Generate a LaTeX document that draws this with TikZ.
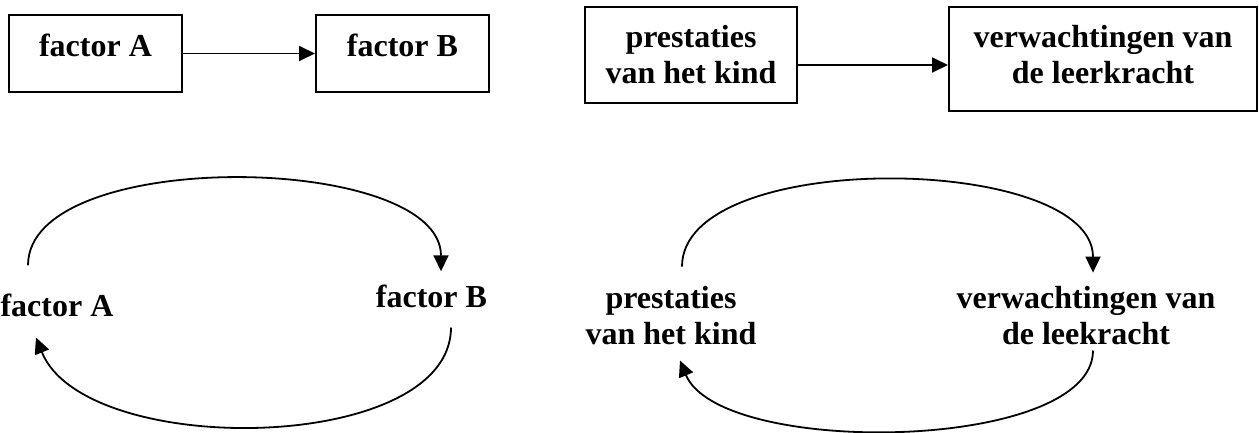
\documentclass[tikz,border=0pt]{standalone}
\usepackage{fontspec}
\setmainfont{Liberation Serif}
\usetikzlibrary{arrows.meta}

\begin{document}
\begin{tikzpicture}[x=1pt, y=1pt,
    >={Triangle[length=16pt,width=15pt]},
    every node/.style={font=\fontsize{32}{36}\selectfont\bfseries, inner sep=0pt},
    box/.style={draw, line width=2pt},
    lbl/.style={align=center, anchor=base},
    link/.style={->, line width=1.8pt}
  ]
    \useasboundingbox (0,0) rectangle (1259,432);

    % top row: boxes
    \node[box, minimum width=173pt, minimum height=77pt,
          text height=22pt, text depth=15pt] (A) at (95.5,378.5) {factor A};
    \node[box, minimum width=173pt, minimum height=77pt,
          text height=22pt, text depth=15pt] (B) at (402.5,378.5) {factor B};
    \node[box, align=center, minimum width=212pt, minimum height=96pt] (P) at (691,377)
      {prestaties\\van het kind};
    \node[box, align=center, minimum width=308pt, minimum height=104pt] (V) at (1103,373)
      {verwachtingen van\\de leerkracht\rule[-10pt]{0pt}{10pt}};

    \draw[link] (A) -- (B);
    \draw[link] ([yshift=-10pt]P.east) -- ([yshift=-10pt]P.east -| V.west);

    % bottom row: loops
    \node[lbl] (a) at (57,116) {factor A};
    \node[lbl] (b) at (431.5,125) {factor B};
    \node[lbl] (p) at (671,88) {prestaties\\van het kind};
    \node[lbl] (v) at (1086,88) {verwachtingen van\\de leekracht};

    % a -> b -> a
    \draw[link] ([shift={(-29,28)}]a.north) .. controls +(0,119) and +(0,119) .. ([shift={(9.5,13)}]b.north);
    \draw[link] ([shift={(19.5,-20)}]b.south) .. controls +(0,-127) and +(49,-122) .. ([shift={(-21,-21)}]a.south);

    % p -> v -> p
    \draw[link] ([shift={(11,19)}]p.north) .. controls +(0,119) and +(0,119) .. ([shift={(7,13)}]v.north);
    \draw[link] ([shift={(7,-6)}]v.south) .. controls +(0,-102) and +(40,-97) .. ([shift={(9,-16)}]p.south);
  \end{tikzpicture}
\end{document}
